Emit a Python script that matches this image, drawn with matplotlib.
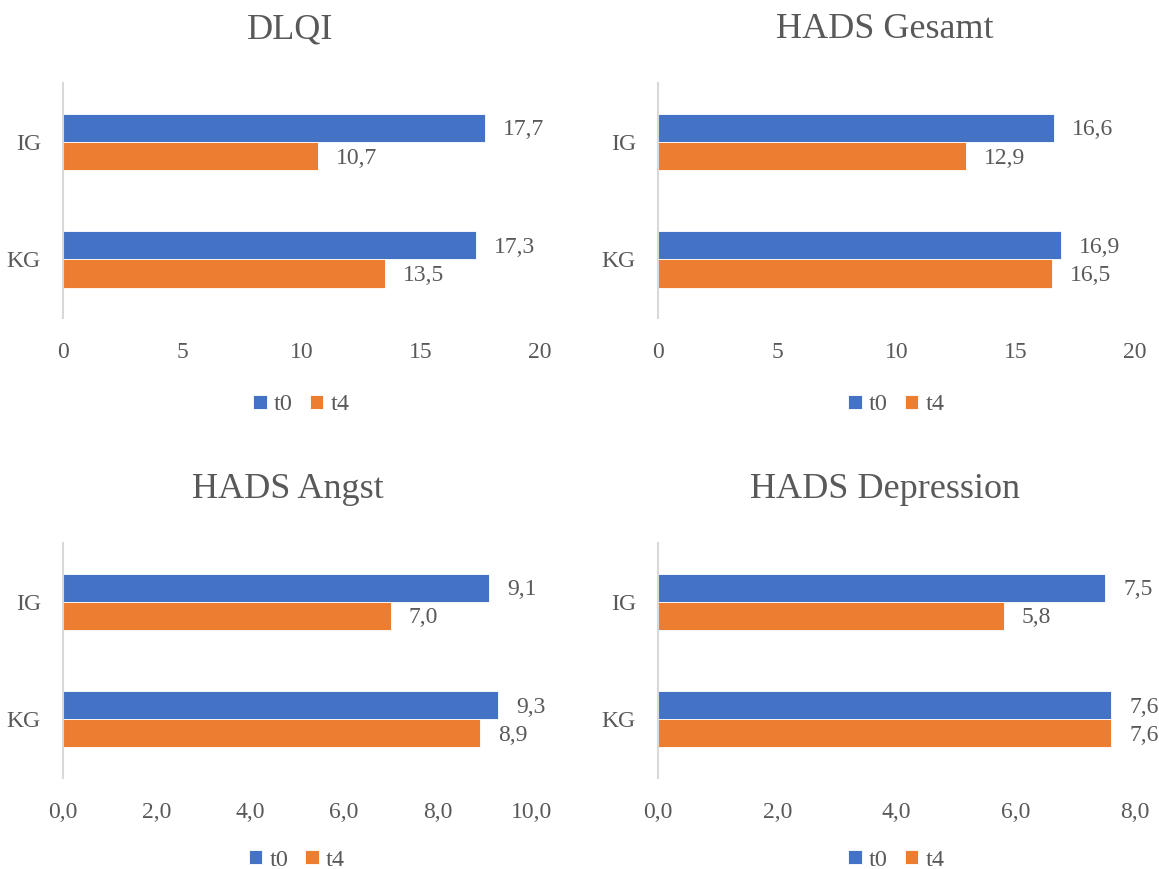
import matplotlib
matplotlib.use("Agg")
import matplotlib.pyplot as plt
import numpy as np

# Data
groups = ["IG", "KG"]
series = ["t0", "t4"]
titles = ["DLQI", "HADS Gesamt", "HADS Angst", "HADS Depression"]
dlqi_t0 = [17.7, 17.3]
dlqi_t4 = [10.7, 13.5]
gesamt_t0 = [16.6, 16.9]
gesamt_t4 = [12.9, 16.5]
angst_t0 = [9.1, 9.3]
angst_t4 = [7.0, 8.9]
depr_t0 = [7.5, 7.6]
depr_t4 = [5.8, 7.6]
x_max = [20, 20, 10, 8]
x_step = [5, 5, 2, 2]
tick_decimals = [0, 0, 1, 1]

BLUE = "#4472C4"
ORANGE = "#ED7D31"
TEXT = "#595959"
AXIS = "#D9D9D9"
SERIF = ["Liberation Serif", "DejaVu Serif"]

W, H = 1159, 869
fig = plt.figure(figsize=(W / 100, H / 100), dpi=100)
fig.patch.set_facecolor("white")

positions = [
    [0.0544, 0.634, 0.4116, 0.2704],
    [0.5677, 0.634, 0.4116, 0.2704],
    [0.0544, 0.1047, 0.4038, 0.2704],
    [0.5677, 0.1047, 0.4116, 0.2704],
]
# title centres (figure fraction) for each chart block
title_xy = [(290 / W, 1 - 30 / H), (885 / W, 1 - 30 / H),
            (288 / W, 1 - 490 / H), (885 / W, 1 - 490 / H)]
legend_y = [-0.37, -0.37, -0.35, -0.35]
data = [(dlqi_t0, dlqi_t4), (gesamt_t0, gesamt_t4),
        (angst_t0, angst_t4), (depr_t0, depr_t4)]

bar_h = 0.24
ypos = np.array([1, 0])  # IG on top, KG below

for i, ax_pos in enumerate(positions):
    ax = fig.add_axes(ax_pos)
    t0, t4 = data[i]
    b0 = ax.barh(ypos + bar_h / 2, t0, height=bar_h, color=BLUE,
                 edgecolor="white", linewidth=0.6, label=series[0])
    b4 = ax.barh(ypos - bar_h / 2, t4, height=bar_h, color=ORANGE,
                 edgecolor="white", linewidth=0.6, label=series[1])
    for bars, vals in ((b0, t0), (b4, t4)):
        for rect, v in zip(bars, vals):
            ax.annotate(f"{v:.1f}".replace(".", ","),
                        xy=(v, rect.get_y() + rect.get_height() / 2),
                        xytext=(13, -1.5), textcoords="offset points",
                        ha="left", va="center", fontsize=17,
                        color=TEXT, family=SERIF)
    ax.set_xlim(0, x_max[i])
    ax.set_ylim(-0.5, 1.5)
    ticks = np.arange(0, x_max[i] + 0.001, x_step[i])
    ax.set_xticks(ticks)
    if tick_decimals[i] == 0:
        ax.set_xticklabels([f"{t:.0f}" for t in ticks])
    else:
        ax.set_xticklabels([f"{t:.1f}".replace(".", ",") for t in ticks])
    ax.set_yticks(ypos)
    ax.set_yticklabels(groups)
    for lab in ax.get_xticklabels() + ax.get_yticklabels():
        lab.set_family(SERIF)
        lab.set_fontsize(17)
        lab.set_color(TEXT)
    ax.tick_params(axis="x", length=0, pad=17)
    ax.tick_params(axis="y", length=0, pad=16)
    for s in ("top", "right", "bottom"):
        ax.spines[s].set_visible(False)
    ax.spines["left"].set_color(AXIS)
    ax.spines["left"].set_linewidth(1.5)
    fig.text(title_xy[i][0], title_xy[i][1], titles[i], ha="center",
             va="center", fontsize=26, color=TEXT, family=SERIF)
    leg = ax.legend(loc="center", bbox_to_anchor=(0.5, legend_y[i]),
                    ncol=2, frameon=False, handlelength=0.55,
                    handleheight=0.55, handletextpad=0.3, columnspacing=0.7,
                    borderpad=0.1, prop={"family": SERIF, "size": 17.5})
    for txt in leg.get_texts():
        txt.set_color(TEXT)

fig.savefig("out.png", dpi=100, facecolor="white")
